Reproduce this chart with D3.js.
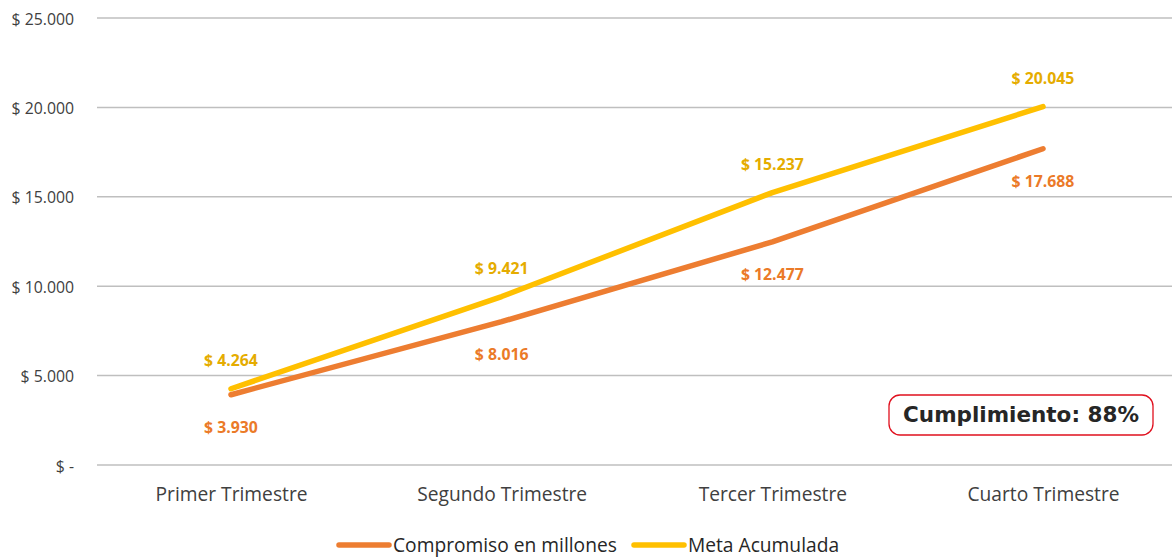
<!DOCTYPE html>
<html><head><meta charset="utf-8">
<script src="https://cdn.jsdelivr.net/npm/d3@7"></script>
<style>body{margin:0;background:#fff;}svg{display:block;}</style>
</head><body>
<svg id="c" width="1172" height="558"></svg>
<script>
const categories = ["Primer Trimestre","Segundo Trimestre","Tercer Trimestre","Cuarto Trimestre"];
const compromiso = [3930, 8016, 12477, 17688];
const meta = [4264, 9421, 15237, 20045];
const yTicks = [0, 5000, 10000, 15000, 20000, 25000];
const seriesNames = ["Compromiso en millones","Meta Acumulada"];
const cumplimiento = "Cumplimiento: 88%";

const svg = d3.select("#c");
const font = "'Open Sans', sans-serif";
const x = d3.scalePoint().domain(categories).range([231, 1043]);
const y = d3.scaleLinear().domain([0, 25000]).range([465, 18]);
const fmt = v => v === 0 ? "$ -" : "$ " + d3.format(",")(v).replace(/,/g, ".");

// grid
svg.append("g").selectAll("line").data(yTicks).join("line")
  .attr("x1", 97).attr("x2", 1172)
  .attr("y1", d => y(d)).attr("y2", d => y(d))
  .attr("stroke", "#bfbfbf").attr("stroke-width", 1.5);

const yAxis = d3.axisLeft(y).tickValues(yTicks).tickSize(0).tickPadding(0).tickFormat(fmt);
const ga = svg.append("g").attr("transform", "translate(74,0)").call(yAxis);
ga.select(".domain").remove();
ga.selectAll("text").attr("dy", "6").attr("font-family", font).attr("font-size", 15.8).attr("fill", "#404040");

const xAxis = d3.axisBottom(x).tickSize(0).tickPadding(0);
const gx = svg.append("g").attr("transform", "translate(0,501)").call(xAxis);
gx.select(".domain").remove();
gx.selectAll("text").attr("dy", "0").attr("font-family", font).attr("font-size", 19.2).attr("fill", "#404040");

const series = [
  {name: seriesNames[0], vals: compromiso, color: "#ED7D31", label: "#EB7A28", dy: 38},
  {name: seriesNames[1], vals: meta, color: "#FFC000", label: "#E5AC00", dy: -23}
];
const line = d3.line().x((d,i) => x(categories[i])).y(d => y(d));
series.forEach(s => {
  svg.append("path").datum(s.vals).attr("d", line)
    .attr("fill", "none").attr("stroke", s.color).attr("stroke-width", 5.5)
    .attr("stroke-linecap", "round").attr("stroke-linejoin", "round");
});
series.forEach(s => {
  svg.append("g").selectAll("text").data(s.vals).join("text")
    .attr("x", (d,i) => x(categories[i]))
    .attr("y", d => y(d) + s.dy)
    .attr("text-anchor", "middle")
    .attr("font-family", font).attr("font-weight", "bold").attr("font-size", 15.8)
    .attr("fill", s.label).text(d => fmt(d));
});

// legend
const leg = [{x: 337}, {x: 632}];
series.forEach((s, i) => {
  const g = svg.append("g");
  g.append("line").attr("x1", leg[i].x + 2).attr("x2", leg[i].x + 52)
    .attr("y1", 545).attr("y2", 545).attr("stroke", s.color)
    .attr("stroke-width", 5.5).attr("stroke-linecap", "round");
  g.append("text").attr("x", leg[i].x + 56).attr("y", 552)
    .attr("font-family", font).attr("font-size", 19.2).attr("fill", "#262626").text(s.name);
});

// cumplimiento box
svg.append("rect").attr("x", 889).attr("y", 395).attr("width", 264).attr("height", 40)
  .attr("rx", 11).attr("fill", "#fff").attr("stroke", "#E0101E").attr("stroke-width", 1.3);
svg.append("text").attr("x", 1021).attr("y", 422).attr("text-anchor", "middle")
  .attr("font-family", "'DejaVu Sans', Verdana, sans-serif").attr("font-weight", "bold")
  .attr("font-size", 21.5).attr("fill", "#262626").text(cumplimiento);
</script>
</body></html>
